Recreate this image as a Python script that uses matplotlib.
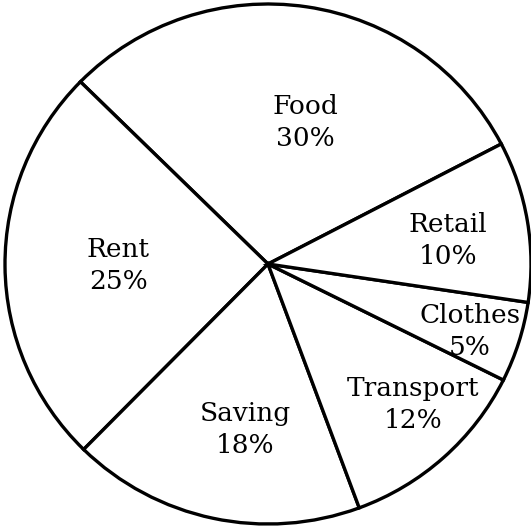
import matplotlib
matplotlib.use("Agg")
import matplotlib.pyplot as plt

# ---- data ------------------------------------------------------------------
categories = ["Food", "Rent", "Saving", "Transport", "Clothes", "Retail"]
shares = [30, 25, 18, 12, 5, 10]          # percent

# label anchor points (in units of the pie radius)
label_pos = [(0.141, 0.546), (-0.570, -0.004), (-0.087, -0.638),
             (0.551, -0.542), (0.768, -0.258), (0.684, 0.092)]

# ---- figure ----------------------------------------------------------------
W, H, DPI = 531, 527, 100
CX, CY = 268, 264     # pie centre in pixels
RX, RY = 263, 260     # scanned circle is slightly squashed

fig = plt.figure(figsize=(W / DPI, H / DPI), dpi=DPI)
ax = fig.add_axes([0, 0, 1, 1])

ax.pie(shares, startangle=27.5, counterclock=True, radius=1.0,
       colors=["white"] * len(shares),
       wedgeprops=dict(edgecolor="black", linewidth=2.4))

ax.set_aspect("auto")
ax.set_xlim(-CX / RX, (W - CX) / RX)
ax.set_ylim(-(H - CY) / RY, CY / RY)
ax.axis("off")

for name, val, (x, y) in zip(categories, shares, label_pos):
    ax.text(x, y, f"{name}\n{val}%", ha="center", va="center",
            fontsize=19, family="DejaVu Serif", linespacing=1.35)

fig.savefig("out.png", dpi=DPI, facecolor="white")
